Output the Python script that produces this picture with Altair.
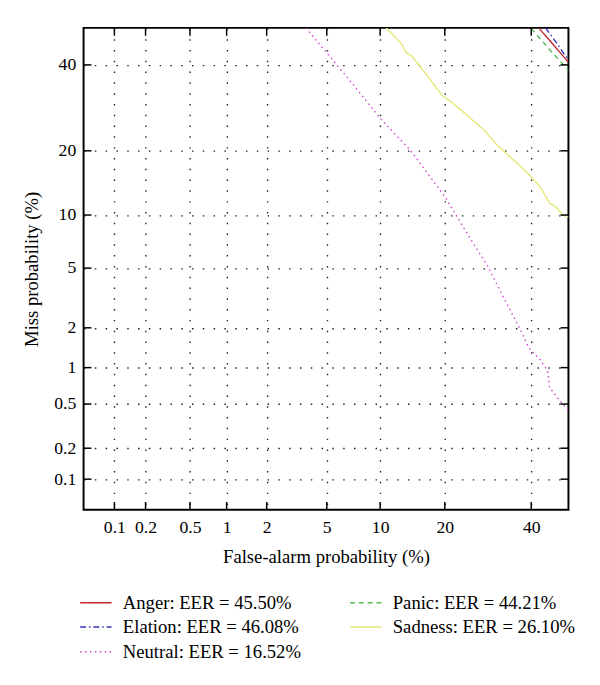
import altair as alt
import pandas as pd
from statistics import NormalDist

# ---- data (percent values) ----
tick_pct = [0.1, 0.2, 0.5, 1, 2, 5, 10, 20, 40]

names = ["Anger: EER = 45.50%", "Elation: EER = 46.08%", "Neutral: EER = 16.52%",
         "Panic: EER = 44.21%", "Sadness: EER = 26.10%"]
colors = ["#c2272d", "#3333bb", "#cc44cc", "#55bb55", "#e6e67a"]
dashes = [[1, 0], [6, 3, 1.5, 3], [1.5, 3.5], [5, 4], [1, 0]]

anger_fa = [42.0, 46.0, 50.0]
anger_miss = [50.0, 45.3, 40.7]

elation_fa = [43.8, 47.0, 50.0]
elation_miss = [50.0, 45.6, 41.2]

neutral_fa = [3.7, 5.0, 7.0, 10.0, 14.1, 20.1, 25.0, 29.1, 33.1, 37.0, 39.4, 42.3, 44.4, 44.9, 47.5, 50.0]
neutral_miss = [50.0, 43.2, 35.4, 26.8, 20.1, 12.3, 7.6, 5.15, 3.18, 1.98, 1.42, 1.16, 0.94, 0.69, 0.54, 0.44]

panic_fa = [40.0, 45.0, 50.0]
panic_miss = [49.8, 44.0, 38.6]

sadness_fa = [10.75, 12.7, 13.5, 14.3, 15.6, 19.5, 21.3, 28.2, 31.3, 39.4, 42.4, 44.9, 46.4, 48.5, 50.0]
sadness_miss = [50.0, 45.9, 43.2, 42.4, 39.7, 32.2, 30.6, 24.3, 21.2, 15.8, 13.8, 11.5, 11.1, 10.0, 9.8]

series = [(names[0], anger_fa, anger_miss), (names[1], elation_fa, elation_miss),
          (names[2], neutral_fa, neutral_miss), (names[3], panic_fa, panic_miss),
          (names[4], sadness_fa, sadness_miss)]

rows = []
for name, fa, miss in series:
    for i, (a, b) in enumerate(zip(fa, miss)):
        rows.append({"series": name, "fa": a, "miss": b, "i": i})
df = pd.DataFrame(rows)

nd = NormalDist()
tick_z = [nd.inv_cdf(p / 100) for p in tick_pct]
ticks = pd.DataFrame({"xz": tick_z, "yz": tick_z})

W, H = 494, 491
dom = [-3.3, 0.0]
label_expr = "'' + round(cumulativeNormal(datum.value) * 1000) / 10"

xscale = alt.Scale(domain=dom, nice=False, zero=False)
yscale = alt.Scale(domain=dom, nice=False, zero=False)
xaxis = alt.Axis(title="False-alarm probability (%)", values=tick_z,
                 labelExpr=label_expr, labelPadding=9, titlePadding=12)
yaxis = alt.Axis(title="Miss probability (%)", values=tick_z,
                 labelExpr=label_expr, labelPadding=8, titlePadding=12)

lines = alt.Chart(df).transform_calculate(
    xz="quantileNormal(datum.fa / 100)",
    yz="quantileNormal(datum.miss / 100)",
).mark_line(clip=True, strokeWidth=1.4).encode(
    x=alt.X("xz:Q", scale=xscale, axis=xaxis),
    y=alt.Y("yz:Q", scale=yscale, axis=yaxis),
    color=alt.Color("series:N", title=None,
                    scale=alt.Scale(domain=names, range=colors)),
    strokeDash=alt.StrokeDash("series:N", title=None,
                              scale=alt.Scale(domain=names, range=dashes)),
    order="i:Q",
)

tk = dict(color="black", strokeWidth=1.5)
bottom = alt.Chart(ticks).mark_rule(**tk).encode(
    x=alt.X("xz:Q", scale=xscale, axis=xaxis), y=alt.value(H), y2=alt.value(H - 8))
top = alt.Chart(ticks).mark_rule(**tk).encode(
    x=alt.X("xz:Q", scale=xscale, axis=xaxis), y=alt.value(0), y2=alt.value(8))
left = alt.Chart(ticks).mark_rule(**tk).encode(
    y=alt.Y("yz:Q", scale=yscale, axis=yaxis), x=alt.value(0), x2=alt.value(8))
right = alt.Chart(ticks).mark_rule(**tk).encode(
    y=alt.Y("yz:Q", scale=yscale, axis=yaxis), x=alt.value(W), x2=alt.value(W - 8))

chart = alt.layer(lines, bottom, top, left, right).properties(
    width=W, height=H,
    padding={"left": 15, "top": 13, "right": 17, "bottom": 5},
).configure_view(
    stroke="black", strokeWidth=2,
).configure_axis(
    labelFont="Liberation Serif", titleFont="Liberation Serif",
    labelFontSize=18, titleFontSize=19, labelColor="black", titleColor="black",
    titleFontWeight="normal", grid=True, gridColor="#222", gridDash=[1.5, 9.5],
    gridWidth=1.4, domain=False, ticks=False,
).configure_legend(
    orient="none", legendX=3, legendY=576, columns=2, columnPadding=46,
    rowPadding=5, symbolType="M-2,0H2", symbolSize=256, symbolStrokeWidth=1.5,
    labelFont="Liberation Serif", labelFontSize=19, labelColor="black",
    labelOffset=18, labelLimit=400,
)

chart.save("out.html", embed_options={"renderer": "svg", "actions": False})
